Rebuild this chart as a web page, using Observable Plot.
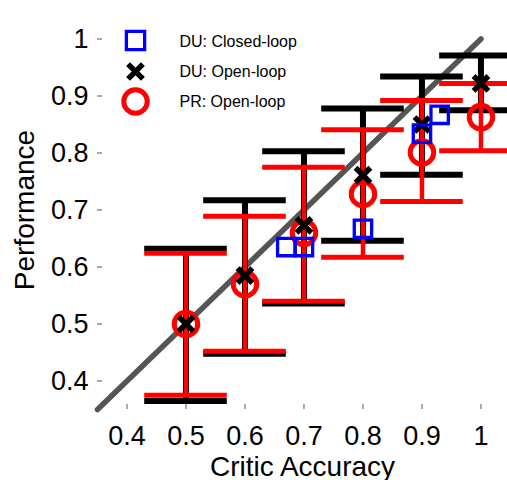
<!DOCTYPE html>
<html><head><meta charset="utf-8">
<script src="https://cdn.jsdelivr.net/npm/d3@7"></script>
<script src="https://cdn.jsdelivr.net/npm/@observablehq/plot@0.6"></script>
<style>body{margin:0;background:#fff} svg{display:block}</style>
</head><body><div id="chart"></div>
<script>
// Data
const accuracy   = [0.5, 0.6, 0.7, 0.8, 0.9, 1.0];
const duOpenMean = [0.500, 0.585, 0.673, 0.761, 0.850, 0.922];
const duOpenLo   = [0.365, 0.448, 0.536, 0.646, 0.762, 0.875];
const duOpenHi   = [0.632, 0.717, 0.803, 0.878, 0.934, 0.971];
const prMean     = [0.500, 0.570, 0.660, 0.728, 0.801, 0.863];
const prLo       = [0.375, 0.452, 0.540, 0.617, 0.715, 0.804];
const prHi       = [0.624, 0.689, 0.775, 0.841, 0.892, 0.922];
const closedX    = [0.67, 0.70, 0.80, 0.90, 0.93];
const closedY    = [0.635, 0.635, 0.667, 0.834, 0.867];
const diagonal   = [0.35, 1.0];
const xTicks     = [0.4, 0.5, 0.6, 0.7, 0.8, 0.9, 1.0];
const yTicks     = [0.4, 0.5, 0.6, 0.7, 0.8, 0.9, 1.0];
const legendLabels = ["DU: Closed-loop", "DU: Open-loop", "PR: Open-loop"];
const xLabel = "Critic Accuracy";
const yLabel = "Performance";
const capHalf = 0.07;

const duOpen = accuracy.map((a, i) => ({x: a, y: duOpenMean[i], lo: duOpenLo[i], hi: duOpenHi[i]}));
const pr = accuracy.map((a, i) => ({x: a, y: prMean[i], lo: prLo[i], hi: prHi[i]}));
const closed = closedX.map((a, i) => ({x: a, y: closedY[i]}));

const font = "'Liberation Sans', Arial, Helvetica, sans-serif";
const tickFmt = d => String(+d.toFixed(1));
const legendText = (i, dy) => Plot.text([legendLabels[i]], {text: d => d, frameAnchor: "top-left", dx: 82, dy, textAnchor: "start", lineAnchor: "middle", fontSize: 16, fill: "black"});

const chart = Plot.plot({
  width: 507, height: 480,
  marginLeft: 97, marginRight: 0, marginTop: 10, marginBottom: 71,
  x: {domain: [0.35, 1.045]},
  y: {domain: [0.35, 1.05]},
  style: {fontFamily: font, background: "white", color: "black"},
  marks: [
    Plot.line(diagonal, {x: d => d, y: d => d, stroke: "#555", strokeWidth: 5.5}),
    // DU open-loop error bars
    Plot.ruleX(duOpen, {x: "x", y1: "lo", y2: "hi", stroke: "black", strokeWidth: 6}),
    Plot.ruleY(duOpen, {y: "lo", x1: d => d.x - capHalf, x2: d => d.x + capHalf, stroke: "black", strokeWidth: 6}),
    Plot.ruleY(duOpen, {y: "hi", x1: d => d.x - capHalf, x2: d => d.x + capHalf, stroke: "black", strokeWidth: 6}),
    // PR open-loop error bars
    Plot.ruleX(pr, {x: "x", y1: "lo", y2: "hi", stroke: "#ff0000", strokeWidth: 4.5}),
    Plot.ruleY(pr, {y: "lo", x1: d => d.x - capHalf, x2: d => d.x + capHalf, stroke: "#ff0000", strokeWidth: 5}),
    Plot.ruleY(pr, {y: "hi", x1: d => d.x - capHalf, x2: d => d.x + capHalf, stroke: "#ff0000", strokeWidth: 5}),
    // markers
    Plot.dot(pr, {x: "x", y: "y", r: 11.75, stroke: "#ff0000", strokeWidth: 5, fill: "none"}),
    Plot.dot(duOpen, {x: "x", y: "y", symbol: "times", r: 6.8, stroke: "black", strokeWidth: 5.5}),
    Plot.dot(closed, {x: "x", y: "y", symbol: "square", r: 9.8, stroke: "#0000ff", strokeWidth: 3.3, fill: "none"}),
    // axes
    Plot.axisX({ticks: xTicks, tickFormat: tickFmt, tickSize: -5, tickPadding: 21, stroke: "#555", fill: "black", fontSize: 27, label: null, line: true}),
    Plot.axisY({ticks: yTicks, tickFormat: tickFmt, tickSize: -5, tickPadding: 14, stroke: "#555", fill: "black", fontSize: 27, label: null, line: true}),
    Plot.text([xLabel], {text: d => d, frameAnchor: "bottom", dy: 66, textAnchor: "middle", lineAnchor: "bottom", fontSize: 28, fill: "black"}),
    Plot.text([yLabel], {text: d => d, frameAnchor: "left", dx: -64, rotate: -90, textAnchor: "middle", lineAnchor: "bottom", fontSize: 28, fill: "black"}),
    // legend
    Plot.dot([legendLabels[0]], {frameAnchor: "top-left", dx: 38, dy: 30, symbol: "square", r: 10.3, stroke: "#0000ff", strokeWidth: 3.3, fill: "none"}),
    Plot.dot([legendLabels[1]], {frameAnchor: "top-left", dx: 38, dy: 61, symbol: "times", r: 6.8, stroke: "black", strokeWidth: 5.5}),
    Plot.dot([legendLabels[2]], {frameAnchor: "top-left", dx: 38, dy: 91, r: 11.75, stroke: "#ff0000", strokeWidth: 5, fill: "none"}),
    legendText(0, 31),
    legendText(1, 61),
    legendText(2, 91)
  ]
});
document.getElementById("chart").append(chart);
</script>
</body></html>
